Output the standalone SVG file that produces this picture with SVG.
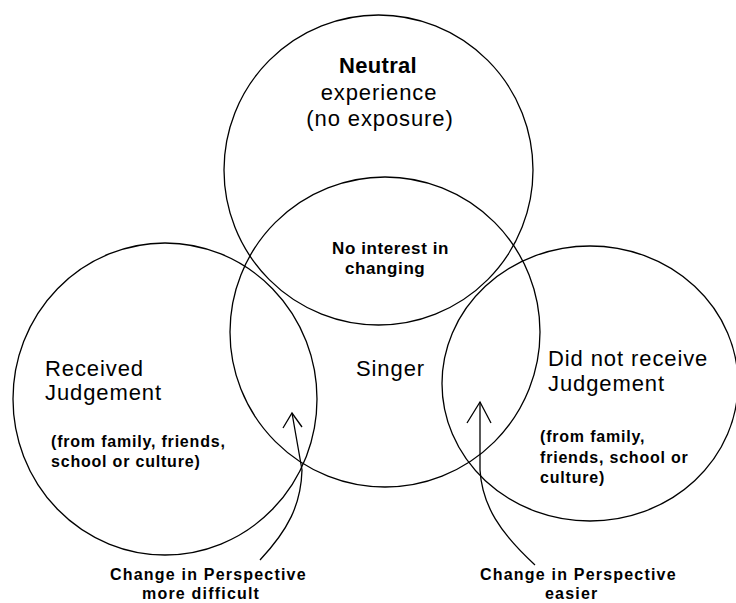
<svg xmlns="http://www.w3.org/2000/svg" width="736" height="603" viewBox="0 0 736 603">
<style>
.c{fill:none;stroke:#000;stroke-width:1.3}
.t{font-family:"Liberation Sans",Arial,sans-serif;fill:#000}
.big{font-size:22px;letter-spacing:0.9px}
.b17{font-size:17px;font-weight:bold;letter-spacing:0.6px}
.b16{font-size:16px;font-weight:bold;letter-spacing:0.8px}
.lab{font-size:16px;font-weight:bold;letter-spacing:1.2px}
.a{fill:none;stroke:#000;stroke-width:1.3}
</style>
<rect width="736" height="603" fill="#fff"/>
<g id="neutral">
<ellipse class="c" cx="378.5" cy="170" rx="154.5" ry="155"/>
<text class="t big" x="378" y="73" text-anchor="middle" font-weight="bold" style="letter-spacing:0.3px">Neutral</text>
<text class="t big" x="379" y="100" text-anchor="middle">experience</text>
<text class="t big" x="380" y="126" text-anchor="middle">(no exposure)</text>
</g>
<g id="singer">
<ellipse class="c" cx="385" cy="332" rx="155" ry="155"/>
<text class="t b17" x="332" y="254">No interest in</text>
<text class="t b17" x="345" y="274">changing</text>
<text class="t big" x="356" y="376">Singer</text>
</g>
<g id="received">
<ellipse class="c" cx="165" cy="399" rx="152" ry="156"/>
<text class="t big" x="45" y="376">Received</text>
<text class="t big" x="45" y="400">Judgement</text>
<text class="t b16" x="51" y="447">(from family, friends,</text>
<text class="t b16" x="51" y="467">school or culture)</text>
</g>
<g id="notreceived">
<ellipse class="c" cx="590" cy="383.5" rx="148" ry="137.5"/>
<text class="t big" x="548" y="366">Did not receive</text>
<text class="t big" x="548" y="391">Judgement</text>
<text class="t b16" x="540" y="442">(from family,</text>
<text class="t b16" x="540" y="463">friends, school or</text>
<text class="t b16" x="540" y="483">culture)</text>
</g>
<g id="connectors">
<path class="a" d="M260 560 C288 530 301 505 302 470 L292 413"/>
<path class="a" d="M283 428 L292 413 L302 427"/>
<path class="a" d="M535 565 C500 533 482 505 480 470 L480 402"/>
<path class="a" d="M467 423 L480 402 L491 423"/>
</g>
<g id="labels">
<text class="t lab" x="110" y="580">Change in Perspective</text>
<text class="t lab" x="142" y="599">more difficult</text>
<text class="t lab" x="480" y="580">Change in Perspective</text>
<text class="t lab" x="545" y="599">easier</text>
</g>
</svg>
